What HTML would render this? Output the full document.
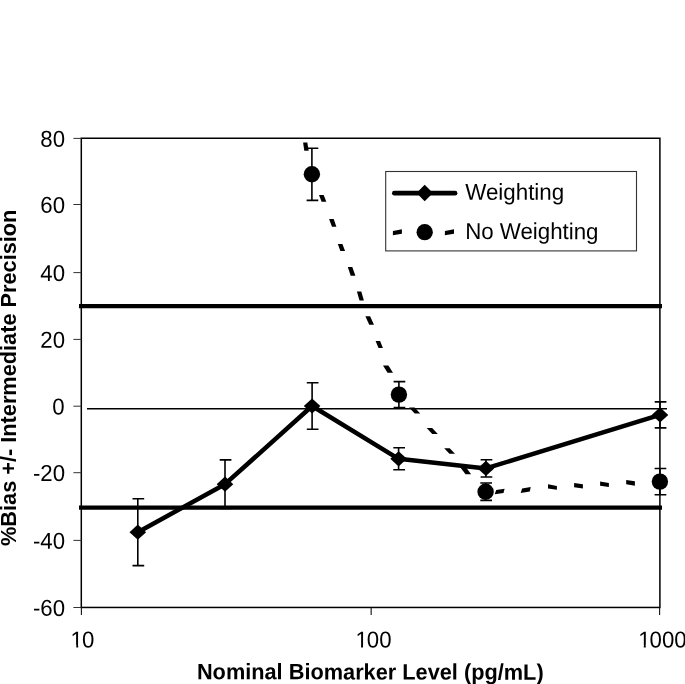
<!DOCTYPE html><html><head><meta charset="utf-8"><title>Chart</title>
<style>html,body{margin:0;padding:0;background:#fff;}svg{display:block}text{font-family:"Liberation Sans",sans-serif;fill:#000}</style></head><body>
<svg width="685" height="684" viewBox="0 0 685 684">
<rect width="685" height="684" fill="#fff"/>
<rect x="81.3" y="138.25" width="578.6" height="469.2" fill="none" stroke="#000" stroke-width="1.5"/>
<line x1="73.4" x2="81.3" y1="607.50" y2="607.50" stroke="#333" stroke-width="1"/>
<line x1="73.4" x2="81.3" y1="540.40" y2="540.40" stroke="#333" stroke-width="1"/>
<line x1="73.4" x2="81.3" y1="472.70" y2="472.70" stroke="#333" stroke-width="1"/>
<line x1="73.4" x2="81.3" y1="406.20" y2="406.20" stroke="#333" stroke-width="1"/>
<line x1="73.4" x2="81.3" y1="339.40" y2="339.40" stroke="#333" stroke-width="1"/>
<line x1="73.4" x2="81.3" y1="272.60" y2="272.60" stroke="#333" stroke-width="1"/>
<line x1="73.4" x2="81.3" y1="204.50" y2="204.50" stroke="#333" stroke-width="1"/>
<line x1="73.4" x2="81.3" y1="138.40" y2="138.40" stroke="#333" stroke-width="1"/>
<line x1="81.40" x2="81.40" y1="607.5" y2="615" stroke="#111" stroke-width="1.1"/>
<line x1="371.15" x2="371.15" y1="607.5" y2="615" stroke="#111" stroke-width="1.1"/>
<line x1="659.60" x2="659.60" y1="607.5" y2="615" stroke="#111" stroke-width="1.1"/>
<text transform="translate(65.05,615.9) rotate(0.1) scale(0.965,1)" font-size="23" text-anchor="end">-60</text>
<text transform="translate(65.05,548.8) rotate(0.1) scale(0.965,1)" font-size="23" text-anchor="end">-40</text>
<text transform="translate(65.05,481.1) rotate(0.1) scale(0.965,1)" font-size="23" text-anchor="end">-20</text>
<text transform="translate(64.7,414.6) rotate(0.1) scale(0.965,1)" font-size="23" text-anchor="end">0</text>
<text transform="translate(65.05,347.8) rotate(0.1) scale(0.965,1)" font-size="23" text-anchor="end">20</text>
<text transform="translate(65.05,281.0) rotate(0.1) scale(0.965,1)" font-size="23" text-anchor="end">40</text>
<text transform="translate(65.05,212.9) rotate(0.1) scale(0.965,1)" font-size="23" text-anchor="end">60</text>
<text transform="translate(65.05,146.8) rotate(0.1) scale(0.965,1)" font-size="23" text-anchor="end">80</text>
<text transform="translate(81.5,647.6) rotate(0.1) scale(0.965,1)" font-size="23" text-anchor="middle" dx="1 -1">10</text>
<text transform="translate(372.5,647.6) rotate(0.1) scale(0.965,1)" font-size="23" text-anchor="middle" dx="1 -1">100</text>
<text transform="translate(661.4,647.6) rotate(0.1) scale(0.965,1)" font-size="23" text-anchor="middle" dx="1 -1">1000</text>
<rect x="70.70" y="644.9" width="5.6" height="3.6" fill="#fff"/><rect x="78.20" y="644.9" width="4.2" height="3.6" fill="#fff"/>
<rect x="355.46" y="644.9" width="5.6" height="3.6" fill="#fff"/><rect x="363.00" y="644.9" width="4.2" height="3.6" fill="#fff"/>
<rect x="638.20" y="644.9" width="5.6" height="3.6" fill="#fff"/><rect x="645.75" y="644.9" width="4.2" height="3.6" fill="#fff"/>
<line x1="87" x2="667" y1="408.7" y2="408.7" stroke="#000" stroke-width="1.5"/>
<line x1="79" x2="662" y1="306.2" y2="306.2" stroke="#000" stroke-width="4.3"/>
<line x1="79" x2="662" y1="507.6" y2="507.6" stroke="#000" stroke-width="4.3"/>
<path d="M137.8 498.8V565.6M132.5 498.8H144.2M132.5 565.6H144.2" stroke="#000" stroke-width="1.6" fill="none"/>
<path d="M225.0 459.9V508.5M219.7 459.9H231.4M219.7 508.5H231.4" stroke="#000" stroke-width="1.6" fill="none"/>
<path d="M312.1 382.8V429.2M306.8 382.8H318.5M306.8 429.2H318.5" stroke="#000" stroke-width="1.6" fill="none"/>
<path d="M398.6 447.8V469.8M393.3 447.8H405.0M393.3 469.8H405.0" stroke="#000" stroke-width="1.6" fill="none"/>
<path d="M485.9 459.8V477.0M480.6 459.8H492.3M480.6 477.0H492.3" stroke="#000" stroke-width="1.6" fill="none"/>
<path d="M660.0 401.9V427.9M654.7 401.9H666.4M654.7 427.9H666.4" stroke="#000" stroke-width="1.6" fill="none"/>
<path d="M311.9 148.2V200.4M306.6 148.2H318.3M306.6 200.4H318.3" stroke="#000" stroke-width="1.6" fill="none"/>
<path d="M398.9 381.6V407.6M393.6 381.6H405.3M393.6 407.6H405.3" stroke="#000" stroke-width="1.6" fill="none"/>
<path d="M485.6 483.0V500.4M480.3 483.0H492.0M480.3 500.4H492.0" stroke="#000" stroke-width="1.6" fill="none"/>
<path d="M659.9 468.5V494.7M654.6 468.5H666.3M654.6 494.7H666.3" stroke="#000" stroke-width="1.6" fill="none"/>
<polyline points="137.8,532.2 225.0,484.2 312.1,406.0 398.6,458.8 485.9,468.4 660.0,414.9" fill="none" stroke="#000" stroke-width="4.5" stroke-linejoin="round"/>
<polygon points="129.5,532.2 137.8,524.6 146.1,532.2 137.8,539.8" fill="#000"/>
<polygon points="216.7,484.2 225.0,476.6 233.3,484.2 225.0,491.8" fill="#000"/>
<polygon points="303.8,406.0 312.1,398.4 320.4,406.0 312.1,413.6" fill="#000"/>
<polygon points="390.3,458.8 398.6,451.2 406.9,458.8 398.6,466.4" fill="#000"/>
<polygon points="477.6,468.4 485.9,460.8 494.2,468.4 485.9,476.0" fill="#000"/>
<polygon points="651.7,414.9 660.0,407.3 668.3,414.9 660.0,422.5" fill="#000"/>
<polygon points="303.1,142.6 307.3,142.6 308.7,150.8 304.3,150.8" fill="#000"/>
<polygon points="319.0,194.9 323.7,194.9 326.3,201.7 321.6,201.7" fill="#000"/>
<polygon points="329.1,219.1 333.7,219.1 336.4,226.7 332.0,226.7" fill="#000"/>
<polygon points="337.8,243.9 342.4,243.9 345.1,251.1 340.4,251.1" fill="#000"/>
<polygon points="347.8,267.0 352.3,267.0 355.4,275.8 350.7,275.8" fill="#000"/>
<polygon points="356.9,291.6 361.3,291.6 363.9,300.6 359.5,300.6" fill="#000"/>
<polygon points="365.4,316.2 370.1,316.2 374.0,324.7 369.2,324.7" fill="#000"/>
<polygon points="375.6,341.0 380.1,341.0 382.9,348.1 378.5,348.1" fill="#000"/>
<polygon points="383.0,365.5 388.4,365.5 393.0,372.7 387.5,372.7" fill="#000"/>
<polygon points="409.1,407.5 414.6,407.5 420.2,413.5 414.7,413.5" fill="#000"/>
<polygon points="426.7,428.1 432.2,428.1 437.8,433.9 432.2,433.9" fill="#000"/>
<polygon points="444.2,448.2 449.7,448.2 455.0,453.8 449.4,453.8" fill="#000"/>
<polygon points="460.2,467.3 466.0,467.3 471.1,474.3 465.5,474.3" fill="#000"/>
<polygon points="496.2,490.0 504.6,488.7 503.5,492.9 494.7,494.3" fill="#000"/>
<polygon points="522.1,488.4 530.7,487.0 529.8,491.6 520.7,492.9" fill="#000"/>
<polygon points="548.0,484.2 556.9,485.9 556.9,489.85 548.0,488.6" fill="#000"/>
<polygon points="574.1,483.0 582.9,484.2 582.9,488.6 574.1,487.15" fill="#000"/>
<polygon points="600.1,481.4 608.9,482.9 608.9,486.9 600.1,485.65" fill="#000"/>
<polygon points="626.2,480.1 634.9,481.2 634.9,485.65 626.2,484.3" fill="#000"/>
<circle cx="311.9" cy="174.3" r="8.2" fill="#000"/>
<circle cx="398.9" cy="394.6" r="8.2" fill="#000"/>
<circle cx="485.6" cy="491.7" r="8.2" fill="#000"/>
<circle cx="659.9" cy="481.6" r="8.2" fill="#000"/>
<rect x="385.7" y="171.5" width="250.8" height="79.4" fill="#fff" stroke="#333" stroke-width="1.1"/>
<line x1="394.3" x2="455.1" y1="193.15" y2="193.15" stroke="#000" stroke-width="4.6" stroke-linecap="round"/>
<polygon points="416.5,193.0 424.7,184.8 432.9,193.0 424.7,201.2" fill="#000"/>
<polygon points="392.9,230.9 401.9,229.2 401.9,233.8 392.9,235.25" fill="#000"/>
<polygon points="444.9,230.9 454.0,229.2 454.0,233.8 444.9,235.25" fill="#000"/>
<circle cx="424.7" cy="232.2" r="8.15" fill="#000"/>
<text transform="translate(465.2,199.65) rotate(0.1) scale(0.972,1)" font-size="23">Weighting</text>
<text transform="translate(465.2,238.95) rotate(0.1) scale(0.969,1)" font-size="23">No Weighting</text>
<text transform="translate(196.9,679.2) rotate(0.08) scale(0.9755,1)" font-size="22.3" font-weight="bold">Nominal Biomarker Level (pg/mL)</text>
<text transform="translate(16.0,546) rotate(-90) scale(0.9705,1)" font-size="22.4" font-weight="bold">%Bias +/- Intermediate Precision</text>
</svg></body></html>
